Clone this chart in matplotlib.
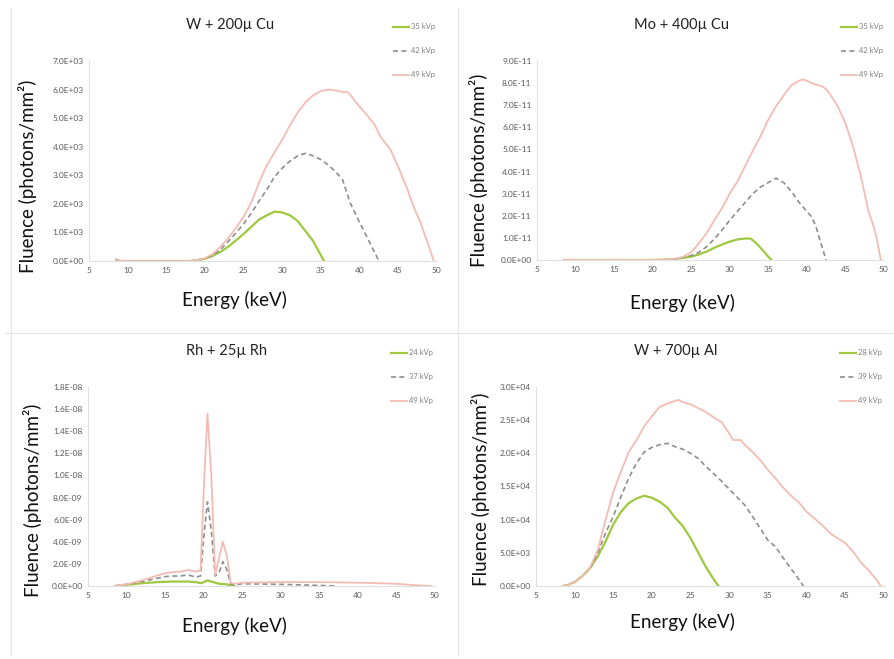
import numpy as np
import matplotlib.pyplot as plt
from matplotlib.ticker import FormatStrFormatter, MultipleLocator
from matplotlib.lines import Line2D

plt.rcParams['font.family'] = ['Lato', 'DejaVu Sans']

# W + 200u Cu  (x1e3)
e_w200_35 = [8.5, 9, 10, 12, 14, 16, 18, 19, 20, 21, 22, 23, 24, 25, 26, 27, 28, 29, 30, 31, 32, 33, 34, 35, 35.4]
f_w200_35 = [0.05, 0, 0, 0, 0, 0, 0, 0.03, 0.08, 0.18, 0.32, 0.5, 0.72, 0.95, 1.2, 1.45, 1.6, 1.73, 1.7, 1.6, 1.4, 1.05, 0.7, 0.2, 0]
e_w200_42 = [8.5, 9, 10, 12, 14, 16, 18, 19, 20, 21, 22, 23, 24, 25, 26, 27, 28, 29, 30, 31, 32, 33, 34, 35, 36, 37, 37.8, 38.8, 40, 40.5, 41.5, 42.5]
f_w200_42 = [0.05, 0, 0, 0, 0, 0, 0, 0.03, 0.09, 0.2, 0.4, 0.68, 0.98, 1.3, 1.68, 2.1, 2.5, 2.95, 3.25, 3.5, 3.68, 3.77, 3.68, 3.55, 3.35, 3.1, 2.85, 2.03, 1.35, 1.09, 0.55, 0]
e_w200_49 = [8.5, 9, 10, 12, 14, 16, 18, 19, 20, 21, 22, 23, 24, 25, 26, 27, 28, 29, 30, 31, 32, 33, 34, 35, 36, 37, 38, 38.4, 39, 40, 41, 42, 42.7, 44, 45, 46.2, 47, 47.9, 49, 49.6]
f_w200_49 = [0.05, 0, 0, 0, 0, 0, 0, 0.03, 0.1, 0.25, 0.5, 0.8, 1.15, 1.55, 2.05, 2.75, 3.35, 3.8, 4.25, 4.75, 5.2, 5.55, 5.8, 5.95, 6.0, 5.97, 5.9, 5.93, 5.75, 5.4, 5.1, 4.75, 4.35, 3.9, 3.3, 2.5, 1.9, 1.33, 0.5, 0]

# Mo + 400u Cu  (x1e-11)
e_mo_35 = [8.5, 12, 16, 20, 22, 23, 24, 25, 26, 27, 28, 29, 30, 31, 32, 32.7, 33.3, 34, 35, 35.4]
f_mo_35 = [0, 0, 0, 0, 0.02, 0.05, 0.1, 0.15, 0.25, 0.38, 0.55, 0.7, 0.83, 0.93, 0.97, 0.97, 0.8, 0.55, 0.15, 0]
e_mo_42 = [8.5, 12, 16, 20, 22, 23, 24, 25, 26, 27, 28, 29, 30, 31, 32, 33, 34, 35, 36, 37, 38, 39, 40, 40.6, 41.2, 41.7, 42.5]
f_mo_42 = [0, 0, 0, 0, 0.02, 0.05, 0.12, 0.2, 0.35, 0.6, 0.95, 1.35, 1.8, 2.2, 2.6, 3.0, 3.3, 3.5, 3.7, 3.5, 3.1, 2.6, 2.2, 1.96, 1.5, 0.9, 0]
e_mo_49 = [8.5, 12, 16, 20, 22, 23, 24, 25, 26, 27, 28, 29, 30, 31, 32, 33, 34, 35, 36, 37, 38, 39, 39.5, 40, 41, 42, 42.6, 43, 44, 45, 46, 47, 47.5, 48, 48.5, 49, 49.6]
f_mo_49 = [0, 0, 0, 0, 0.02, 0.06, 0.15, 0.35, 0.75, 1.21, 1.8, 2.35, 3.0, 3.55, 4.25, 4.95, 5.6, 6.35, 6.95, 7.45, 7.9, 8.1, 8.17, 8.1, 7.95, 7.85, 7.69, 7.5, 6.95, 6.2, 5.13, 3.8, 3.0, 2.2, 1.7, 1.1, 0]

# Rh + 25u Rh  (x1e-9)
e_rh_24 = [8.5, 10, 12, 14, 16, 18, 19, 19.7, 20.5, 21, 22, 23, 23.5, 24]
f_rh_24 = [0, 0.1, 0.25, 0.35, 0.4, 0.4, 0.35, 0.25, 0.5, 0.4, 0.2, 0.15, 0.05, 0]
e_rh_37 = [8.5, 10, 12, 14, 15, 16, 17, 18, 19, 19.6, 20.1, 20.5, 21, 21.5, 22, 22.5, 23, 23.5, 24, 25, 30, 35, 37]
f_rh_37 = [0, 0.15, 0.4, 0.7, 0.85, 0.9, 0.9, 1.0, 0.8, 0.9, 5.0, 7.6, 5.0, 0.9, 1.2, 2.2, 1.5, 0.2, 0.1, 0.2, 0.15, 0.05, 0]
e_rh_49 = [8.5, 10, 12, 14, 15, 16, 17, 18, 19, 19.6, 20.1, 20.5, 21, 21.5, 22, 22.5, 23, 23.5, 24, 25, 30, 35, 40, 45, 48, 49.5]
f_rh_49 = [0, 0.15, 0.5, 0.95, 1.15, 1.25, 1.3, 1.45, 1.3, 1.4, 10.0, 15.6, 10.0, 1.0, 2.5, 4.0, 2.8, 0.3, 0.2, 0.3, 0.35, 0.35, 0.3, 0.2, 0.05, 0]

# W + 700u Al  (x1e3)
e_al_28 = [8.5, 9, 10, 11, 12, 13, 14, 15, 16, 17, 18, 19, 20, 21, 22, 23, 24, 25, 26, 27, 28, 28.6]
f_al_28 = [0, 0.1, 0.6, 1.5, 2.7, 4.5, 6.7, 9.3, 11.2, 12.5, 13.2, 13.6, 13.3, 12.7, 11.8, 10.3, 9.0, 7.2, 5.0, 2.8, 1.0, 0]
e_al_39 = [8.5, 9, 10, 11, 12, 13, 14, 15, 16, 17, 18, 19, 20, 21, 22, 23, 24, 25, 26, 27, 28, 29, 30, 31, 32, 33, 34, 35, 36, 37, 38, 39, 39.6]
f_al_39 = [0, 0.1, 0.6, 1.5, 2.7, 5.0, 8.0, 10.5, 13.5, 16.3, 18.5, 20.2, 20.9, 21.3, 21.5, 21.0, 20.6, 20.0, 19.2, 18.0, 16.9, 15.8, 14.6, 13.4, 12.2, 10.5, 8.7, 6.9, 5.9, 4.2, 2.6, 1.0, 0]
e_al_49 = [8.5, 9, 10, 11, 12, 13, 14, 15, 16, 17, 18, 19, 20, 21, 22, 23, 23.4, 24, 25, 26, 27, 28, 29, 30, 30.5, 31.5, 32, 33, 34, 35, 36, 37, 38, 39, 40, 41, 42, 43, 44, 45, 46, 47, 48, 49, 49.6]
f_al_49 = [0, 0.1, 0.6, 1.5, 2.8, 5.5, 10.0, 14.2, 17.3, 20.2, 22.0, 24.1, 25.6, 27.0, 27.5, 27.9, 28.05, 27.7, 27.4, 26.8, 26.2, 25.4, 24.7, 23.0, 22.0, 22.0, 21.3, 20.2, 19.0, 17.5, 16.2, 14.8, 13.6, 12.6, 11.2, 10.2, 9.2, 8.0, 7.2, 6.5, 5.2, 3.6, 2.4, 1.0, 0]

panels = [
    dict(title='W + 200\u00b5 Cu', scale=1e3, ymax=7e3, step=1e3,
         curves=[(e_w200_35, f_w200_35, '35 kVp'), (e_w200_42, f_w200_42, '42 kVp'), (e_w200_49, f_w200_49, '49 kVp')],
         rect=[0.0996, 0.6039, 0.389, 0.3035], title_xy=(230, 25), leg_x=393, leg_y=27,
         ylab_xy=(28, 176), xlab_xy=(234, 300)),
    dict(title='Mo + 400\u00b5 Cu', scale=1e-11, ymax=9e-11, step=1e-11,
         curves=[(e_mo_35, f_mo_35, '35 kVp'), (e_mo_42, f_mo_42, '42 kVp'), (e_mo_49, f_mo_49, '49 kVp')],
         rect=[0.6007, 0.6055, 0.388, 0.302], title_xy=(682, 25), leg_x=841, leg_y=27,
         ylab_xy=(478, 170), xlab_xy=(682, 303)),
    dict(title='Rh + 25\u00b5 Rh', scale=1e-9, ymax=1.8e-8, step=2e-9,
         curves=[(e_rh_24, f_rh_24, '24 kVp'), (e_rh_37, f_rh_37, '37 kVp'), (e_rh_49, f_rh_49, '49 kVp')],
         rect=[0.0984, 0.1108, 0.388, 0.302], title_xy=(227, 351), leg_x=391, leg_y=353,
         ylab_xy=(33, 500), xlab_xy=(234, 626)),
    dict(title='W + 700\u00b5 Al', scale=1e3, ymax=3e4, step=5e3,
         curves=[(e_al_28, f_al_28, '28 kVp'), (e_al_39, f_al_39, '39 kVp'), (e_al_49, f_al_49, '49 kVp')],
         rect=[0.5996, 0.1108, 0.389, 0.302], title_xy=(676, 351), leg_x=840, leg_y=353,
         ylab_xy=(480, 489), xlab_xy=(682, 622)),
]

styles = [dict(color='#9dc83f', ls='-', lw=1.6),
          dict(color='#8e8e8e', ls=(0, (3, 2)), lw=1.2),
          dict(color='#f3bcb3', ls='-', lw=1.3)]

W, H = 894, 659
fig = plt.figure(figsize=(W / 100, H / 100), dpi=100)

def fx(px):
    return px / W

def fy(py):
    return 1 - py / H

# faint panel borders
for (x0, y0, x1, y1) in [(11, 8, 11, 655), (458, 8, 458, 655), (5, 333, 894, 333)]:
    fig.add_artist(Line2D([fx(x0), fx(x1)], [fy(y0), fy(y1)], color='#e4e4e4', lw=0.8))

for p in panels:
    ax = fig.add_axes(p['rect'])
    for (e, f, lab), st in zip(p['curves'], styles):
        ax.plot(e, np.array(f) * p['scale'], **st)
    ax.set_xlim(5, 50)
    ax.set_ylim(0, p['ymax'])
    ax.xaxis.set_major_locator(MultipleLocator(5))
    ax.yaxis.set_major_locator(MultipleLocator(p['step']))
    ax.yaxis.set_major_formatter(FormatStrFormatter('%.1E'))
    ax.tick_params(length=0, labelsize=6, colors='#595959', pad=4)
    for s in ['top', 'right']:
        ax.spines[s].set_visible(False)
    for s in ['left', 'bottom']:
        ax.spines[s].set_color('#e0e0e0')
        ax.spines[s].set_linewidth(0.8)
    ax.patch.set_alpha(0)

    tx, ty = p['title_xy']
    fig.text(fx(tx), fy(ty), p['title'], ha='center', va='center', fontsize=10.5, color='#222222')
    lx, ly = p['xlab_xy']
    fig.text(fx(lx), fy(ly), 'Energy (keV)', ha='center', va='center', fontsize=13.5, color='#111111')
    yx, yy = p['ylab_xy']
    fig.text(fx(yx), fy(yy), 'Fluence (photons/mm\u00b2)', ha='center', va='center', rotation=90,
             fontsize=13.5, color='#111111')

    # legend drawn manually in figure space
    for i, ((e, f, lab), st) in enumerate(zip(p['curves'], styles)):
        yl = p['leg_y'] + i * 24
        fig.add_artist(Line2D([fx(p['leg_x']), fx(p['leg_x'] + 16)], [fy(yl), fy(yl)], **st))
        fig.text(fx(p['leg_x'] + 18), fy(yl), lab, ha='left', va='center', fontsize=5.5, color='#7f7f7f')

fig.savefig('out.png', dpi=100)
